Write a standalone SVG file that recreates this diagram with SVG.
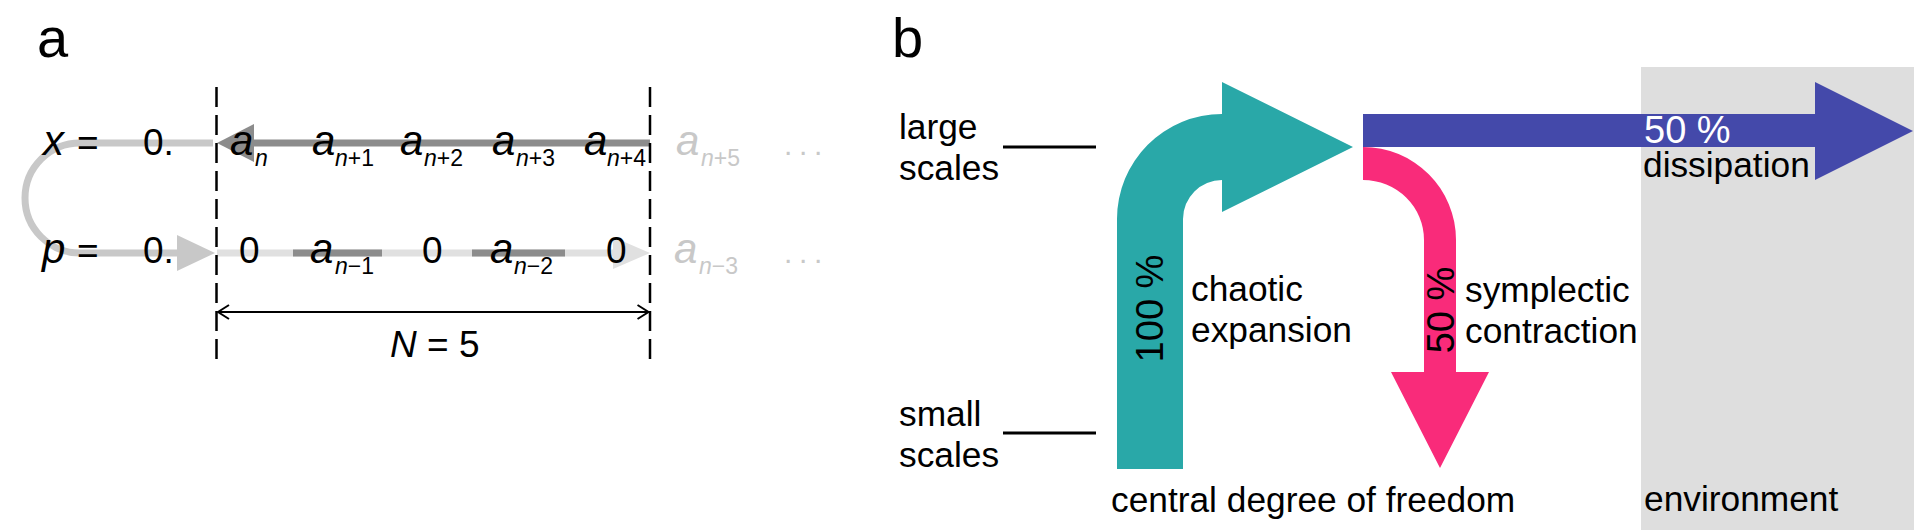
<svg xmlns="http://www.w3.org/2000/svg" width="1919" height="530" viewBox="0 0 1919 530">
  <style>
    text { font-family: "Liberation Sans", Arial, Helvetica, sans-serif; fill: #000; }
    .lbl { font-size: 56px; }
    .num { font-size: 37px; }
    .var { font-size: 42px; font-style: italic; }
    .sub { font-size: 23px; }
    .sub tspan.i { font-style: italic; }
    .faint { fill: #c8c8c8; }
    .dots { font-size: 30px; letter-spacing: 6.7px; }
    .bt { font-size: 35.3px; }
    .pct { font-size: 38px; }
    .dash { stroke: #000; stroke-width: 2.5; stroke-dasharray: 20 8; fill: none; }
  </style>
  <defs>
    <marker id="chev" viewBox="0 0 13 16" refX="12" refY="8" markerWidth="13" markerHeight="16" markerUnits="userSpaceOnUse" orient="auto-start-reverse">
      <path d="M 1 1 L 12 8 L 1 15" fill="none" stroke="#000" stroke-width="2"/>
    </marker>
  </defs>

  <!-- panel a -->
  <g id="panel-a">
    <text class="lbl" x="37" y="57">a</text>

    <!-- register strips -->
    <g id="strips">
      <path d="M 213 143 L 80 143 A 55 55 0 0 0 80 253 L 180 253" fill="none" stroke="#c8c8c8" stroke-width="7"/>
      <polygon points="177,235 215,253 177,271" fill="#c8c8c8"/>
      <line x1="217" y1="253" x2="616" y2="253" stroke="#e0e0e0" stroke-width="7"/>
      <polygon points="613,237 650,253 613,269" fill="#e0e0e0"/>
      <line x1="293" y1="253" x2="382" y2="253" stroke="#8c8c8c" stroke-width="7"/>
      <line x1="472" y1="253" x2="565" y2="253" stroke="#8c8c8c" stroke-width="7"/>
      <line x1="250" y1="143" x2="650" y2="143" stroke="#8c8c8c" stroke-width="7"/>
      <polygon points="254,124 217,143 254,162" fill="#8c8c8c"/>
    </g>

    <!-- window boundaries -->
    <line class="dash" x1="216.5" y1="87" x2="216.5" y2="360"/>
    <line class="dash" x1="650" y1="87" x2="650" y2="360"/>

    <!-- window width -->
    <g id="width-dim">
      <line x1="218" y1="312" x2="648.5" y2="312" stroke="#000" stroke-width="2" marker-start="url(#chev)" marker-end="url(#chev)"/>
      <text x="390" y="357" class="num" font-size="39"><tspan font-style="italic">N</tspan> = 5</text>
    </g>

    <!-- x row -->
    <g id="row-x">
      <text class="var" x="43" y="155">x</text>
      <text class="num" x="77" y="155">=</text>
      <text class="num" x="143" y="155">0.</text>
      <text class="var" x="230" y="155">a</text><text class="sub" x="255" y="166"><tspan class="i">n</tspan></text>
      <text class="var" x="312" y="155">a</text><text class="sub" x="335" y="166"><tspan class="i">n</tspan>+1</text>
      <text class="var" x="400" y="155">a</text><text class="sub" x="424" y="166"><tspan class="i">n</tspan>+2</text>
      <text class="var" x="492" y="155">a</text><text class="sub" x="516" y="166"><tspan class="i">n</tspan>+3</text>
      <text class="var" x="584" y="155">a</text><text class="sub" x="607" y="166"><tspan class="i">n</tspan>+4</text>
      <text class="var faint" x="676" y="155">a</text><text class="sub faint" x="701" y="166"><tspan class="i">n</tspan>+5</text>
      <text class="dots faint" x="784" y="155">...</text>
    </g>

    <!-- p row -->
    <g id="row-p">
      <text class="var" x="42" y="263">p</text>
      <text class="num" x="77" y="263">=</text>
      <text class="num" x="143" y="263">0.</text>
      <text class="num" x="239" y="263">0</text>
      <text class="var" x="310" y="263">a</text><text class="sub" x="335" y="274"><tspan class="i">n</tspan>−1</text>
      <text class="num" x="422" y="263">0</text>
      <text class="var" x="490" y="263">a</text><text class="sub" x="514" y="274"><tspan class="i">n</tspan>−2</text>
      <text class="num" x="606" y="263">0</text>
      <text class="var faint" x="674" y="263">a</text><text class="sub faint" x="699" y="274"><tspan class="i">n</tspan>−3</text>
      <text class="dots faint" x="784" y="263">...</text>
    </g>
  </g>

  <!-- panel b -->
  <g id="panel-b">
    <text class="lbl" x="892" y="57">b</text>

    <rect id="environment" x="1641" y="67" width="273" height="463" fill="#dedede"/>

    <g id="scale-axis">
      <text class="bt" x="899" y="139">large</text>
      <text class="bt" x="899" y="180">scales</text>
      <line x1="1003" y1="147" x2="1096" y2="147" stroke="#000" stroke-width="3"/>
      <text class="bt" x="899" y="426">small</text>
      <text class="bt" x="899" y="467">scales</text>
      <line x1="1003" y1="433" x2="1096" y2="433" stroke="#000" stroke-width="3"/>
    </g>

    <g id="flows">
      <g id="chaotic-expansion">
        <path d="M 1117 469 L 1117 219 A 105 105 0 0 1 1222 114 L 1222 82 L 1353 147 L 1222 212 L 1222 180 A 39 39 0 0 0 1183 219 L 1183 469 Z" fill="#29a8a8"/>
        <text class="pct" transform="translate(1163 308.5) rotate(-90)" text-anchor="middle">100 %</text>
        <text class="bt" x="1191" y="301">chaotic</text>
        <text class="bt" x="1191" y="342">expansion</text>
      </g>
      <g id="dissipation">
        <path d="M 1363 114 L 1815 114 L 1815 82 L 1913 131 L 1815 180 L 1815 147 L 1363 147 Z" fill="#4449aa"/>
        <text class="pct" x="1644" y="143" style="fill:#fff">50 %</text>
        <text class="bt" x="1643" y="177">dissipation</text>
      </g>
      <g id="symplectic-contraction">
        <path d="M 1363 147 A 93 93 0 0 1 1456 240 L 1456 372 L 1489 372 L 1440 468 L 1391 372 L 1424 372 L 1424 240 A 61 60 0 0 0 1363 180 Z" fill="#f92b7a"/>
        <text class="pct" transform="translate(1454 310) rotate(-90)" text-anchor="middle">50 %</text>
        <text class="bt" x="1465" y="302">symplectic</text>
        <text class="bt" x="1465" y="343">contraction</text>
      </g>
    </g>

    <text class="bt" x="1111" y="512">central degree of freedom</text>
    <text class="bt" x="1644" y="511">environment</text>
  </g>
</svg>
